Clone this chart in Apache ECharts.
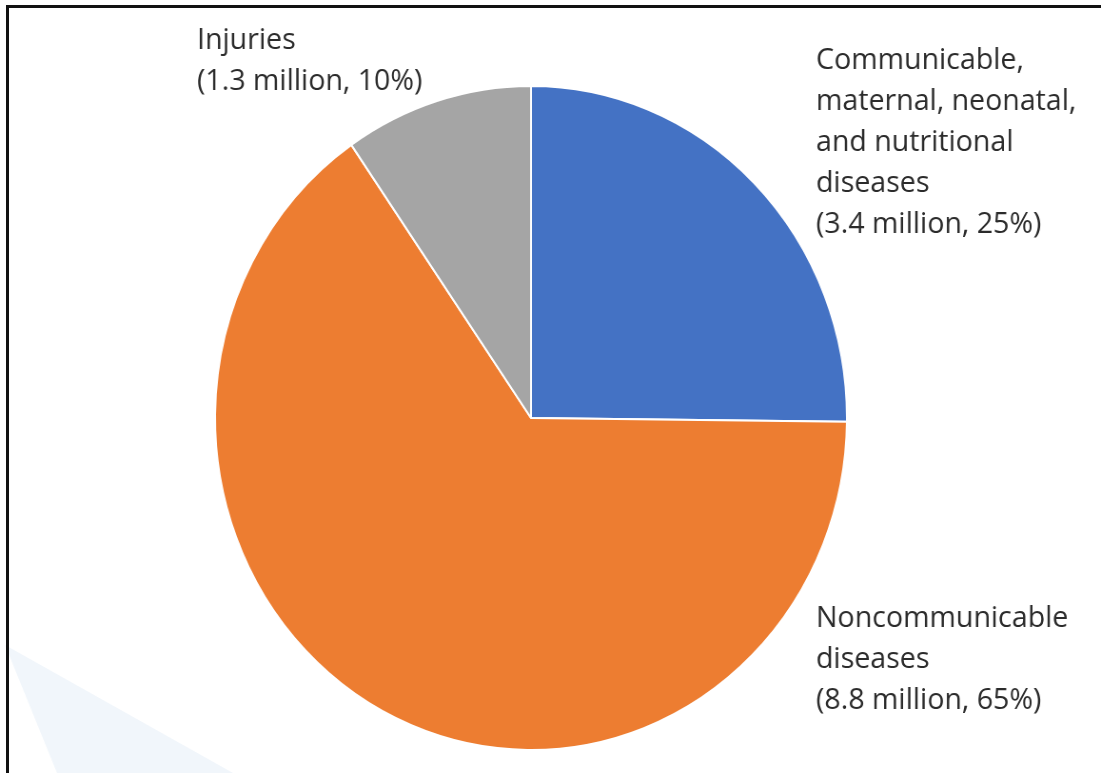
<!DOCTYPE html>
<html>
<head>
<meta charset="utf-8">
<script src="https://cdn.jsdelivr.net/npm/echarts@6/dist/echarts.min.js"></script>
<style>
  html, body { margin: 0; padding: 0; background: #ffffff; overflow: hidden; }
  #wrap { position: relative; width: 1101px; height: 773px; overflow: hidden; background: #fff; }
  #chart { position: absolute; left: 0; top: 0; width: 1157px; height: 773px; transform: scaleX(0.95159); transform-origin: 0 0; }
  #frame { position: absolute; left: 6px; top: 5px; width: 1200px; height: 800px; border-top: 3px solid #111; border-left: 3px solid #111; pointer-events: none; }
</style>
</head>
<body>
<div id="wrap">
  <div id="chart"></div>
  <div id="frame"></div>
</div>
<script>
// ---- data ----
const categories = [
  'Communicable,\nmaternal, neonatal,\nand nutritional\ndiseases',
  'Noncommunicable\ndiseases',
  'Injuries'
];
const deathsMillions = [3.4, 8.8, 1.3];
const sliceColors = ['#4472C4', '#ED7D31', '#A5A5A5'];
// label anchor positions (top-left of each label block), screen pixels
const labelAnchorX = [816, 816, 197];
const labelAnchorY = [40, 598, 20];

const SX = 1101 / 1157; // horizontal squeeze applied via CSS

const chart = echarts.init(document.getElementById('chart'), null, { renderer: 'canvas' });

const option = {
  animation: false,
  backgroundColor: 'transparent',
  graphic: [{
    type: 'polygon',
    z: -10,
    silent: true,
    shape: { points: [[5 / SX, 645], [233 / SX, 773], [57 / SX, 773]] },
    style: { fill: '#f1f6fb' }
  }],
  series: [{
    type: 'pie',
    center: [531 / SX, 418],
    radius: 332,
    startAngle: 90,
    clockwise: true,
    percentPrecision: 0,
    avoidLabelOverlap: false,
    itemStyle: { borderColor: '#ffffff', borderWidth: 2 },
    emphasis: { disabled: true },
    label: {
      show: true,
      position: 'outside',
      formatter: '{b}\n({c} million, {d}%)',
      fontFamily: 'Open Sans',
      fontSize: 30,
      lineHeight: 41,
      color: '#2b2b2b',
      align: 'left'
    },
    labelLine: { show: false },
    labelLayout: function (params) {
      const i = params.dataIndex;
      return {
        x: labelAnchorX[i] / SX,
        y: labelAnchorY[i],
        align: 'left',
        verticalAlign: 'top',
        hideOverlap: false,
        moveOverlap: null
      };
    },
    data: categories.map((name, i) => ({
      name: name,
      value: deathsMillions[i],
      itemStyle: { color: sliceColors[i] }
    }))
  }]
};

chart.setOption(option);
</script>
</body>
</html>
